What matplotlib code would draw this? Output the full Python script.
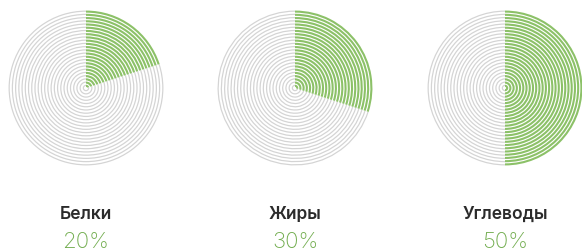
import matplotlib.pyplot as plt
import numpy as np

# nutrients and their share
categories = ['Белки', 'Жиры', 'Углеводы']
percents = [20, 30, 50]

green = '#8cc168'
text_green = '#72ad4f'
gray = '#d4d4d4'
n_rings = 24

fig = plt.figure(figsize=(5.82, 2.52), dpi=100)
W, H = 582, 252
centers_x = [86, 295, 505]
cy = 88
R = 79

for cx, name, pct in zip(centers_x, categories, percents):
    ax = fig.add_axes([(cx - R) / W, (H - cy - R) / H, 2 * R / W, 2 * R / H])
    radii = np.arange(1, n_rings + 1) / n_rings
    step = 1.0 / n_rings
    for r in radii:
        # grey rings thin, green rings heavier
        ax.pie([pct, 100 - pct], radius=r, startangle=90, counterclock=False,
               colors=['none', gray], wedgeprops=dict(width=step * 0.38, linewidth=0))
        ax.pie([pct, 100 - pct], radius=r, startangle=90, counterclock=False,
               colors=[green, 'none'], wedgeprops=dict(width=step * 0.65, linewidth=0))
    ax.set_xlim(-1.02, 1.02)
    ax.set_ylim(-1.02, 1.02)
    ax.set_aspect('equal')
    ax.axis('off')

    fig.text(cx / W, 1 - 219 / H, name, ha='center', va='baseline',
             fontsize=12.5, color='#2b2b2b', family='Inter', weight='semibold')
    fig.text(cx / W, 1 - 248 / H, f'{pct}%', ha='center', va='baseline',
             fontsize=16, color=text_green, family='Inter', weight='light')

fig.savefig('out.png', dpi=100, facecolor='white')
